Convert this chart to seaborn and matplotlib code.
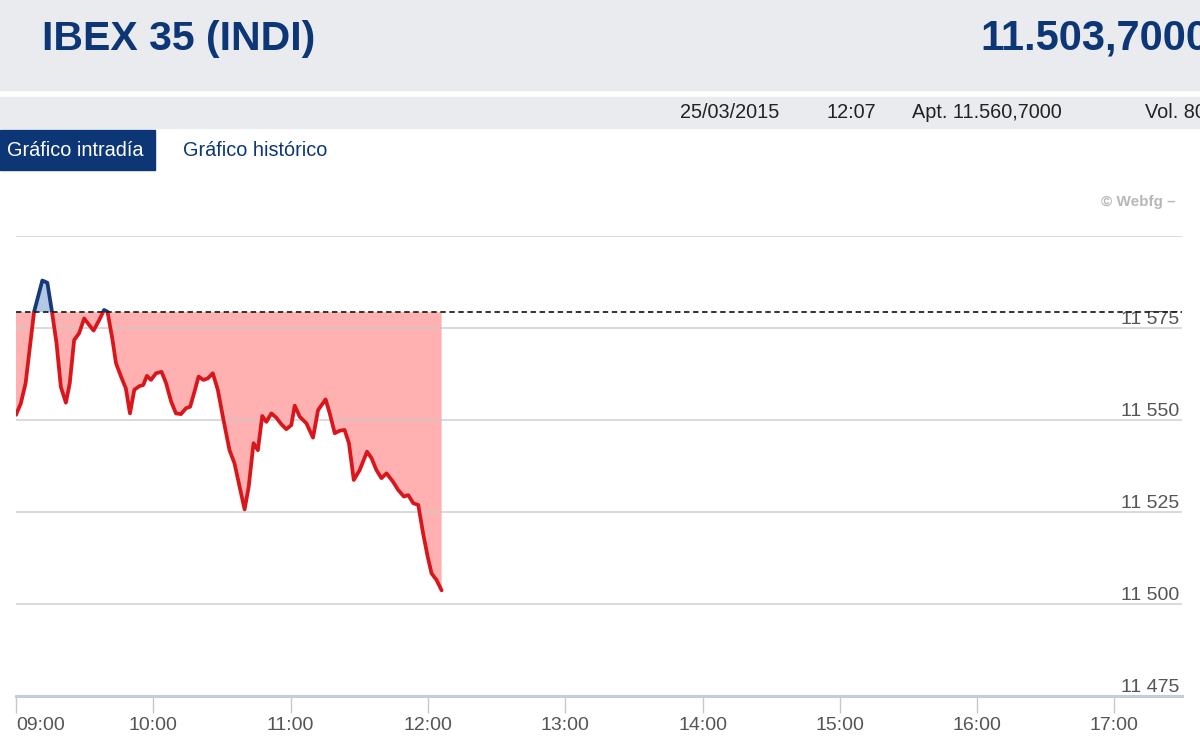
import numpy as np
import matplotlib.pyplot as plt
import seaborn as sns
from matplotlib.patches import Rectangle

# ----------------------------------------------------------
# Data (minutes after 09:00, index level)
# ----------------------------------------------------------

minutes = [0, 2.1, 4.2, 7.9, 11.5, 13.7, 15.6, 17.7, 19.6, 21.8,
           23.5, 25.4, 27.6, 29.8, 32.0, 33.9, 36.4, 38.5, 40.0, 42.2,
           43.7, 45.9, 48.0, 49.8, 51.7, 53.9, 55.6, 57.2, 59.0, 61.2,
           63.6, 65.6, 67.8, 69.9, 72.1, 74.3, 76.1, 78.0, 79.8, 81.9,
           83.8, 86.0, 88.2, 90.4, 93.3, 95.5, 97.7, 99.9, 101.7, 103.8,
           105.7, 107.6, 109.4, 111.6, 113.8, 115.9, 118.1, 120.3, 121.8, 124.0,
           126.9, 129.8, 132.0, 135.3, 137.1, 139.3, 141.5, 143.6, 145.5, 147.6,
           150.2, 153.4, 155.4, 157.5, 159.7, 161.9, 164.8, 167.0, 169.5, 171.4,
           173.6, 175.8, 177.9, 179.9, 181.6, 183.8, 186.0]

price = [11551.4, 11554.5, 11560.0, 11579.4, 11587.9, 11587.3, 11579.9, 11570.9, 11559.0, 11554.7,
         11560.0, 11571.7, 11573.6, 11577.6, 11575.8, 11574.3, 11577.2, 11579.9, 11579.4, 11571.7,
         11565.4, 11561.8, 11558.6, 11551.8, 11558.2, 11559.2, 11559.5, 11562.0, 11560.9, 11562.7,
         11563.1, 11560.0, 11555.0, 11551.8, 11551.6, 11553.2, 11553.6, 11557.7, 11561.8, 11560.9,
         11561.3, 11562.7, 11558.2, 11550.9, 11541.8, 11538.2, 11531.9, 11525.7, 11531.9, 11543.7,
         11541.8, 11551.1, 11549.5, 11551.8, 11550.6, 11548.9, 11547.5, 11548.6, 11553.9, 11550.9,
         11549.1, 11545.2, 11552.7, 11555.6, 11551.8, 11546.4, 11547.1, 11547.3, 11543.7, 11533.7,
         11536.4, 11541.4, 11539.6, 11536.4, 11534.2, 11535.5, 11533.2, 11531.0, 11529.2, 11529.6,
         11527.4, 11526.9, 11519.2, 11512.9, 11508.3, 11506.5, 11503.7]

prev_close = 11579.3

hour_ticks = [0, 60, 120, 180, 240, 300, 360, 420, 480]
hour_labels = ["09:00", "10:00", "11:00", "12:00", "13:00",
               "14:00", "15:00", "16:00", "17:00"]

level_ticks = [11475, 11500, 11525, 11550, 11575]
level_labels = ["11 475", "11 500", "11 525", "11 550", "11 575"]
grid_levels = [11500, 11525, 11550, 11575, 11600]

# ----------------------------------------------------------
# Style
# ----------------------------------------------------------

sns.set_theme(style="white")
plt.rcParams["font.family"] = ["Liberation Sans", "DejaVu Sans"]

NAVY = "#0d3677"
RED = "#d9161c"
GREY_BAND = "#e9ebee"

W, H = 1200, 753
fig = plt.figure(figsize=(12, 7.53), dpi=100)


def fy(px):
    return 1 - px / H


# ----------------------------------------------------------
# Header
# ----------------------------------------------------------

fig.patches.append(Rectangle((0, fy(90)), 1, 90 / H, transform=fig.transFigure,
                             color=GREY_BAND, zorder=0))
fig.patches.append(Rectangle((0, fy(128)), 1, 31 / H, transform=fig.transFigure,
                             color=GREY_BAND, zorder=0))
fig.patches.append(Rectangle((0, fy(170)), 155 / W, 40 / H, transform=fig.transFigure,
                             color=NAVY, zorder=0))

fig.text(42 / W, fy(39), "IBEX 35 (INDI)", fontsize=29.5, fontweight="bold",
         color=NAVY, va="center", ha="left")
fig.text(980 / W, fy(39), "11.503,7000", fontsize=30, fontweight="bold",
         color=NAVY, va="center", ha="left")

for x, txt in [(680, "25/03/2015"), (827, "12:07"), (912, "Apt. 11.560,7000"), (1145, "Vol. 80")]:
    fig.text(x / W, fy(113), txt, fontsize=14.3, color="#222222", va="center", ha="left")

fig.text(7 / W, fy(150), "Gráfico intradía", fontsize=14.3, color="white",
         va="center", ha="left")
fig.text(183 / W, fy(150), "Gráfico histórico", fontsize=14.3, color=NAVY,
         va="center", ha="left")
fig.text(1176 / W, fy(202), "© Webfg –", fontsize=11, fontweight="bold",
         color="#b8b8b8", va="center", ha="right")

# ----------------------------------------------------------
# Chart
# ----------------------------------------------------------

ax = fig.add_axes([16 / W, fy(696), (1182 - 16) / W, (696 - 236) / H])
ax.set_facecolor("none")

x_max = (1182 - 16) / 137.3 * 60
ax.set_xlim(0, x_max)
ax.set_ylim(11475, 11600)

t = np.array(minutes)
p = np.array(price)

ax.fill_between(t, p, prev_close, where=p <= prev_close, interpolate=True,
                color="#ffb0b0", lw=0, zorder=1)
ax.fill_between(t, p, prev_close, where=p >= prev_close, interpolate=True,
                color="#b3c8e4", lw=0, zorder=1)

for lvl in grid_levels:
    ax.axhline(lvl, color="#c8c8c8", lw=1.2, alpha=0.8, zorder=2)

sns.lineplot(x=t, y=p, ax=ax, color=RED, lw=2.7, zorder=4)
sns.lineplot(x=t, y=p, ax=ax, color="#17397a", lw=2.7, zorder=4)

below = Rectangle((0, 11400), x_max, prev_close - 11400, transform=ax.transData)
above = Rectangle((0, prev_close), x_max, 100, transform=ax.transData)
ax.lines[-2].set_clip_path(below)
ax.lines[-1].set_clip_path(above)

ax.axhline(prev_close, color="#222222", lw=1.3, ls=(0, (3, 2)), zorder=5)

# axes styling
for side in ["top", "left", "right"]:
    ax.spines[side].set_visible(False)
ax.spines["bottom"].set_color("#c3ccd9")
ax.spines["bottom"].set_linewidth(2.2)

ax.set_xticks(hour_ticks)
ax.set_xticklabels(hour_labels)
ax.tick_params(axis="x", direction="out", length=12, width=1, color="#c8c8c8",
               labelsize=14, labelcolor="#555555", pad=3, bottom=True)
ax.get_xticklabels()[0].set_ha("left")

ax.yaxis.tick_right()
ax.set_yticks(level_ticks)
ax.set_yticklabels(level_labels)
ax.tick_params(axis="y", length=0, pad=-2, labelsize=14, labelcolor="#555555")
for lbl in ax.get_yticklabels():
    lbl.set_ha("right")
    lbl.set_va("bottom")
    lbl.set_zorder(6)

ax.set_xlabel("")
ax.set_ylabel("")
ax.grid(False)

plt.savefig("out.png", dpi=100)
plt.close()
